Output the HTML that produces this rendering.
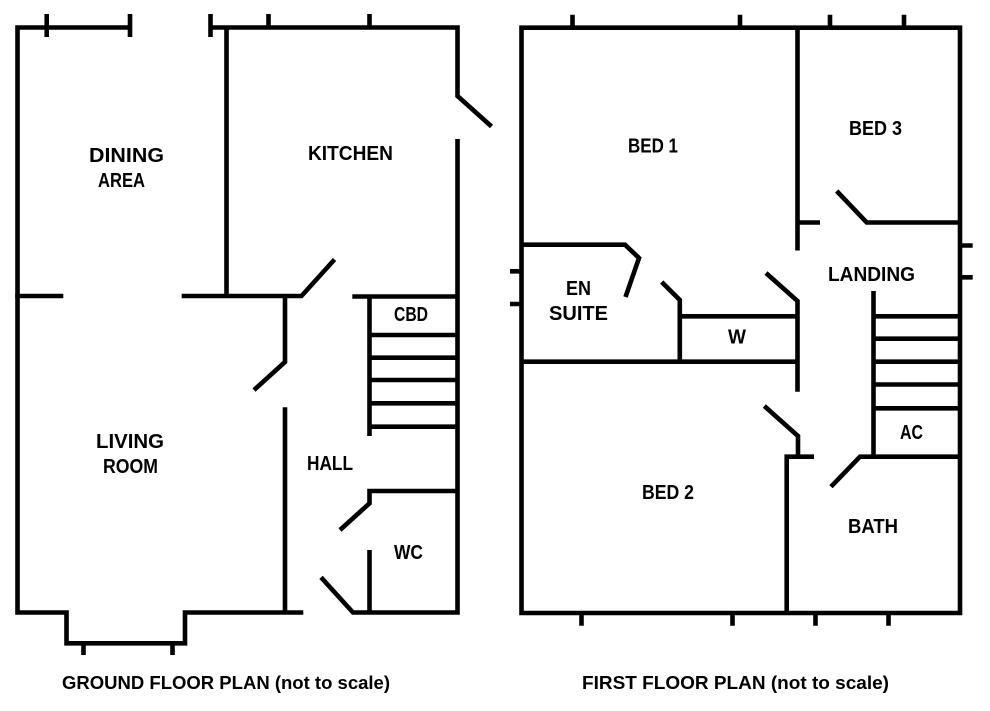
<!DOCTYPE html>
<html>
<head>
<meta charset="utf-8">
<style>
html,body{margin:0;padding:0;background:#fff;}
svg{display:block;}
text{font-family:"Liberation Sans",sans-serif;font-size:20px;font-weight:bold;fill:#000;}
.t{font-size:18px;}
</style>
</head>
<body>
<svg width="990" height="711" viewBox="0 0 990 711" xmlns="http://www.w3.org/2000/svg">
<g fill="none" stroke="#000" stroke-width="4.6" stroke-linejoin="miter" stroke-linecap="butt">
<!-- GROUND FLOOR -->
<path d="M130,27.5 H17.5 V612.5 H66.5 V643.3 H185 V612.5 H303.3"/>
<path d="M46.7,14 V37 M130,14 V37"/>
<path d="M83.5,643 V655 M172.5,643 V655"/>
<path d="M15.2,296 H63.3"/>
<path d="M181.7,296 H301.5 L334.5,259.5"/>
<path d="M210.5,14 V37"/>
<path d="M210.5,27.5 H457.5 V96 L491.5,126.5"/>
<path d="M268.5,14 V27.5 M369.5,14 V27.5"/>
<path d="M226.5,27.5 V296"/>
<path d="M457.5,139 V612.5 H353 L321,577.3"/>
<path d="M285,296 V362 L254,390"/>
<path d="M285,407.3 V612.5"/>
<path d="M352.3,296.5 H457.5"/>
<path d="M369.5,296.5 V436"/>
<path d="M369.5,335 H457.5 M369.5,357.7 H457.5 M369.5,380 H457.5 M369.5,403.3 H457.5 M369.5,426.7 H457.5"/>
<path d="M457.5,491 H369.5 V503.3 L340,530"/>
<path d="M369.5,550 V612.5"/>
<!-- FIRST FLOOR -->
<path d="M521.5,27.7 H960 V613 H521.5 Z"/>
<path d="M572.5,14.7 V27.7 M740,14.7 V27.7 M830,14.7 V27.7 M904,14.7 V27.7"/>
<path d="M960,245.5 H972.7 M960,277.3 H972.7"/>
<path d="M510,271.3 H521.5 M510,304 H521.5"/>
<path d="M581.5,613 V625.7 M732.5,613 V625.7 M815.5,613 V625.7 M888.5,613 V625.7"/>
<path d="M797.5,27.7 V250.5"/>
<path d="M797.5,222.5 H820"/>
<path d="M836.7,191 L866.7,222.5 H960"/>
<path d="M521.5,244.7 H625 L639,258 L625.5,297"/>
<path d="M661.7,282 L679.8,300 V361.7"/>
<path d="M679.8,316.3 H797.5"/>
<path d="M766,273 L797.5,301 V391.7"/>
<path d="M521.5,361.7 H797.5"/>
<path d="M873.5,291 V456.7"/>
<path d="M873.5,316.3 H960 M873.5,338.7 H960 M873.5,361.7 H960 M873.5,384.5 H960 M873.5,408.3 H960"/>
<path d="M831,486.7 L860,456.7 H960"/>
<path d="M764.3,406 L798,436 V456.7"/>
<path d="M814,456.7 H786.7 V613"/>
</g>
<!-- LABELS -->
<text x="89" y="162" textLength="75" lengthAdjust="spacingAndGlyphs">DINING</text>
<text x="98" y="187" textLength="47" lengthAdjust="spacingAndGlyphs">AREA</text>
<text x="308" y="160" textLength="85" lengthAdjust="spacingAndGlyphs">KITCHEN</text>
<text x="394" y="321" textLength="34" lengthAdjust="spacingAndGlyphs">CBD</text>
<text x="96" y="448" textLength="68" lengthAdjust="spacingAndGlyphs">LIVING</text>
<text x="103" y="473" textLength="55" lengthAdjust="spacingAndGlyphs">ROOM</text>
<text x="307" y="470" textLength="46" lengthAdjust="spacingAndGlyphs">HALL</text>
<text x="394" y="559" textLength="29" lengthAdjust="spacingAndGlyphs">WC</text>
<text class="t" x="62" y="689" textLength="328" lengthAdjust="spacingAndGlyphs">GROUND FLOOR PLAN (not to scale)</text>
<text x="628" y="152.5" textLength="50" lengthAdjust="spacingAndGlyphs">BED 1</text>
<text x="849" y="135" textLength="53" lengthAdjust="spacingAndGlyphs">BED 3</text>
<text x="828" y="281" textLength="87" lengthAdjust="spacingAndGlyphs">LANDING</text>
<text x="566" y="295" textLength="25" lengthAdjust="spacingAndGlyphs">EN</text>
<text x="549" y="320" textLength="59" lengthAdjust="spacingAndGlyphs">SUITE</text>
<text x="728" y="343.5" textLength="18" lengthAdjust="spacingAndGlyphs">W</text>
<text x="900" y="439" textLength="23" lengthAdjust="spacingAndGlyphs">AC</text>
<text x="642" y="499" textLength="52" lengthAdjust="spacingAndGlyphs">BED 2</text>
<text x="848" y="533" textLength="50" lengthAdjust="spacingAndGlyphs">BATH</text>
<text class="t" x="582" y="689" textLength="307" lengthAdjust="spacingAndGlyphs">FIRST FLOOR PLAN (not to scale)</text>
</svg>
</body>
</html>
